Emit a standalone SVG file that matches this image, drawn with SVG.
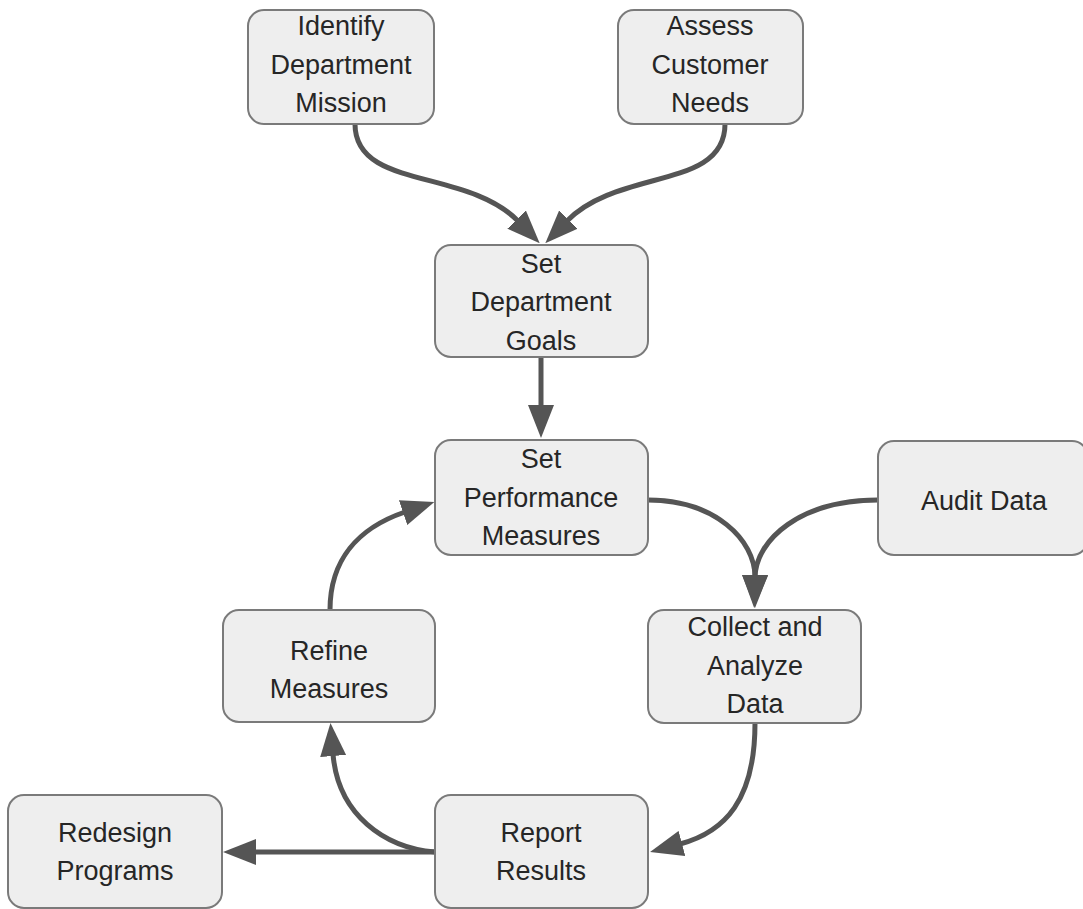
<svg xmlns="http://www.w3.org/2000/svg" width="1083" height="909" viewBox="0 0 1083 909">
  <style>
    .box { fill: #eeeeee; stroke: #7a7a7a; stroke-width: 2; }
    .lbl { font-family: "Liberation Sans", Arial, sans-serif; font-size: 27px; fill: #262626; text-anchor: middle; }
    .edge { fill: none; stroke: #555555; stroke-width: 5; }
  </style>
  <defs>
    <marker id="arrow" viewBox="0 0 33 26" refX="2" refY="13" markerWidth="33" markerHeight="26" markerUnits="userSpaceOnUse" orient="auto">
      <path d="M0,0 L33,13 L0,26 z" fill="#555555"/>
    </marker>
  </defs>

  <!-- connectors -->
  <g id="edges">
    <path class="edge" marker-end="url(#arrow)" d="M355 124 C355 190 466 168 518 221"/>
    <path class="edge" marker-end="url(#arrow)" d="M725 124 C725 190 619 168 567 221"/>
    <path class="edge" marker-end="url(#arrow)" d="M541 357 L541 407"/>
    <path class="edge" marker-end="url(#arrow)" d="M648 500 C715 500 755 540 755 577"/>
    <path class="edge" marker-end="url(#arrow)" d="M878 500 C800 500 756 540 755 577"/>
    <path class="edge" marker-end="url(#arrow)" d="M755 723 C755 800 725 832 680 844"/>
    <path class="edge" marker-end="url(#arrow)" d="M435 852 C385 848 338 815 333 754"/>
    <path class="edge" marker-end="url(#arrow)" d="M435 852 L254 852"/>
    <path class="edge" marker-end="url(#arrow)" d="M330 610 C330 560 358 528 405 512"/>
  </g>

  <g id="identify">
    <rect class="box" x="248" y="10" width="186" height="114" rx="16"/>
    <text class="lbl" x="341" y="35">Identify</text>
    <text class="lbl" x="341" y="74">Department</text>
    <text class="lbl" x="341" y="112">Mission</text>
  </g>
  <g id="assess">
    <rect class="box" x="618" y="10" width="185" height="114" rx="16"/>
    <text class="lbl" x="710" y="35">Assess</text>
    <text class="lbl" x="710" y="74">Customer</text>
    <text class="lbl" x="710" y="112">Needs</text>
  </g>
  <g id="goals">
    <rect class="box" x="435" y="245" width="213" height="112" rx="16"/>
    <text class="lbl" x="541" y="273">Set</text>
    <text class="lbl" x="541" y="311">Department</text>
    <text class="lbl" x="541" y="350">Goals</text>
  </g>
  <g id="measures">
    <rect class="box" x="435" y="440" width="213" height="115" rx="16"/>
    <text class="lbl" x="541" y="468">Set</text>
    <text class="lbl" x="541" y="507">Performance</text>
    <text class="lbl" x="541" y="545">Measures</text>
  </g>
  <g id="audit">
    <rect class="box" x="878" y="441" width="210" height="114" rx="16"/>
    <text class="lbl" x="984" y="510">Audit Data</text>
  </g>
  <g id="collect">
    <rect class="box" x="648" y="610" width="213" height="113" rx="16"/>
    <text class="lbl" x="755" y="636">Collect and</text>
    <text class="lbl" x="755" y="675">Analyze</text>
    <text class="lbl" x="755" y="713">Data</text>
  </g>
  <g id="refine">
    <rect class="box" x="223" y="610" width="212" height="112" rx="16"/>
    <text class="lbl" x="329" y="660">Refine</text>
    <text class="lbl" x="329" y="698">Measures</text>
  </g>
  <g id="redesign">
    <rect class="box" x="8" y="795" width="214" height="113" rx="16"/>
    <text class="lbl" x="115" y="842">Redesign</text>
    <text class="lbl" x="115" y="880">Programs</text>
  </g>
  <g id="report">
    <rect class="box" x="435" y="795" width="213" height="113" rx="16"/>
    <text class="lbl" x="541" y="842">Report</text>
    <text class="lbl" x="541" y="880">Results</text>
  </g>
</svg>
